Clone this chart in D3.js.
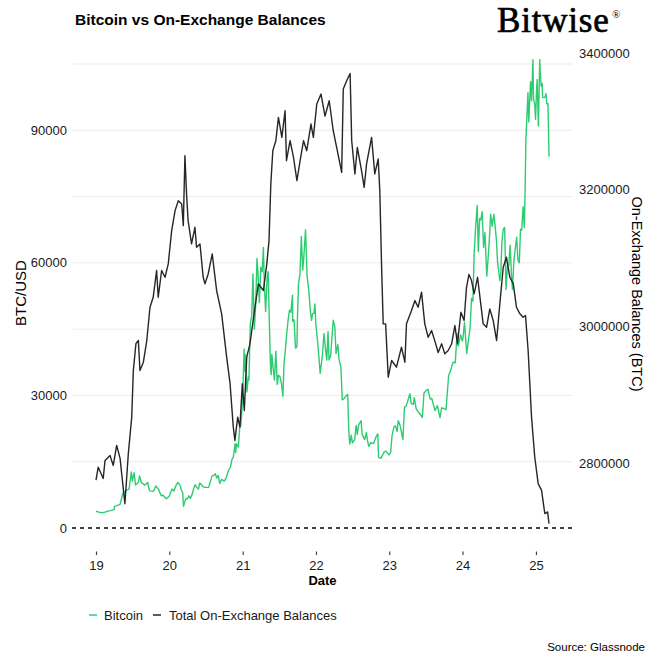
<!DOCTYPE html>
<html>
<head>
<meta charset="utf-8">
<script src="https://cdn.jsdelivr.net/npm/d3@7"></script>
<style>
  html, body { margin: 0; padding: 0; background: #fff; }
  svg { display: block; font-family: "Liberation Sans", Arial, sans-serif; }
</style>
</head>
<body>
<svg id="chart" width="661" height="661"></svg>
<script>
// ---------- DATA ----------
const btcDates = ["2019-01-01","2019-01-15","2019-02-01","2019-02-15","2019-03-01","2019-03-15","2019-04-01","2019-04-03","2019-04-15","2019-05-01","2019-05-15","2019-05-31","2019-06-15","2019-06-26","2019-07-01","2019-07-10","2019-07-17","2019-08-01","2019-08-06","2019-08-15","2019-09-01","2019-09-15","2019-09-25","2019-10-15","2019-10-26","2019-11-08","2019-11-22","2019-12-01","2019-12-17",
"2020-01-01","2020-01-08","2020-01-15","2020-01-25","2020-02-01","2020-02-13","2020-02-24","2020-03-01","2020-03-08","2020-03-12","2020-03-20","2020-03-25","2020-04-01","2020-04-08","2020-04-15","2020-04-23","2020-05-01","2020-05-09","2020-05-15","2020-05-25","2020-06-01","2020-06-10","2020-06-15","2020-06-25","2020-07-01","2020-07-15","2020-07-27","2020-08-01","2020-08-10","2020-08-17","2020-08-25","2020-09-01","2020-09-08","2020-09-18","2020-10-01","2020-10-10","2020-10-21","2020-11-01","2020-11-08","2020-11-15","2020-11-24","2020-11-27","2020-12-01","2020-12-10","2020-12-17","2020-12-23","2020-12-31",
"2021-01-03","2021-01-08","2021-01-11","2021-01-14","2021-01-22","2021-01-29","2021-02-01","2021-02-08","2021-02-15","2021-02-21","2021-02-28","2021-03-07","2021-03-13","2021-03-18","2021-03-25","2021-04-01","2021-04-08","2021-04-14","2021-04-18","2021-04-25","2021-05-03","2021-05-08","2021-05-12","2021-05-19","2021-05-23","2021-05-26","2021-06-01","2021-06-08","2021-06-15","2021-06-22","2021-06-28","2021-07-06","2021-07-13","2021-07-20","2021-07-26","2021-08-01","2021-08-08","2021-08-15","2021-08-22","2021-08-29","2021-09-06","2021-09-07","2021-09-14","2021-09-21","2021-09-28","2021-10-01","2021-10-06","2021-10-13","2021-10-20","2021-10-27","2021-11-01","2021-11-10","2021-11-18","2021-11-26","2021-12-04","2021-12-10","2021-12-15","2021-12-22","2021-12-27","2021-12-31",
"2022-01-10","2022-01-22","2022-02-01","2022-02-10","2022-02-17","2022-02-24","2022-03-02","2022-03-07","2022-03-15","2022-03-28","2022-04-05","2022-04-11","2022-04-20","2022-04-26","2022-05-05","2022-05-12","2022-05-20","2022-06-01","2022-06-08","2022-06-13","2022-06-18","2022-06-26","2022-07-01","2022-07-13","2022-07-20","2022-07-26","2022-08-01","2022-08-14","2022-08-19","2022-09-01","2022-09-09","2022-09-15","2022-09-21","2022-10-01","2022-10-15","2022-10-29","2022-11-05","2022-11-09","2022-11-21","2022-12-05","2022-12-15","2022-12-31",
"2023-01-08","2023-01-15","2023-01-25","2023-02-01","2023-02-09","2023-02-15","2023-02-24","2023-03-10","2023-03-18","2023-03-25","2023-04-01","2023-04-14","2023-04-20","2023-05-01","2023-05-06","2023-05-15","2023-05-25","2023-06-05","2023-06-15","2023-06-23","2023-07-04","2023-07-13","2023-07-24","2023-08-01","2023-08-17","2023-08-29","2023-09-11","2023-09-19","2023-10-01","2023-10-11","2023-10-24","2023-11-01","2023-11-09","2023-11-15","2023-11-26","2023-12-05","2023-12-11","2023-12-15","2023-12-23","2023-12-31",
"2024-01-03","2024-01-11","2024-01-22","2024-02-01","2024-02-08","2024-02-15","2024-02-22","2024-02-28","2024-03-05","2024-03-14","2024-03-20","2024-03-26","2024-04-01","2024-04-08","2024-04-15","2024-04-22","2024-05-01","2024-05-08","2024-05-15","2024-05-20","2024-05-28","2024-06-05","2024-06-12","2024-06-18","2024-06-24","2024-07-05","2024-07-10","2024-07-15","2024-07-22","2024-07-29","2024-08-05","2024-08-12","2024-08-19","2024-08-25","2024-09-01","2024-09-06","2024-09-13","2024-09-20","2024-09-27","2024-10-03","2024-10-10","2024-10-16","2024-10-22","2024-10-29","2024-11-04","2024-11-08","2024-11-12","2024-11-15","2024-11-22","2024-11-26","2024-12-05","2024-12-10","2024-12-17","2024-12-20","2024-12-26","2024-12-30",
"2025-01-03","2025-01-07","2025-01-13","2025-01-20","2025-01-22","2025-01-27","2025-02-01","2025-02-03","2025-02-10","2025-02-15","2025-02-20","2025-02-24","2025-03-02","2025-03-07"];
const btcPrices = [3800,3600,3450,3600,3820,3920,4150,4900,5050,5350,7900,8500,8800,12700,10600,12500,9700,10400,11800,10300,9700,10300,8400,8300,9500,8800,7300,7400,6600,
7200,8100,8800,8400,9400,10300,9650,8600,8000,4900,6200,6700,6600,7300,6700,7500,8800,9800,9300,8800,10200,9800,9400,9200,9200,9200,11000,11800,11900,12300,11300,11900,10100,11000,10600,11300,12900,13800,15500,16000,19100,17100,19000,18300,22800,23200,29000,
32800,40500,35500,39200,30800,34300,33500,46400,48000,57500,45000,51000,61000,57800,51000,59000,58000,63500,56000,49000,57000,58000,49500,37000,34700,39300,36600,33500,40000,32500,34600,34200,32700,29800,37300,40000,43800,47000,49300,48800,52700,46800,47100,40700,41000,48000,55300,57400,66000,58400,61000,67500,56900,54000,49000,47000,48500,48600,50700,46300,
41800,35000,38700,44000,40600,38000,44400,38000,39000,47000,45500,39500,41500,38100,36500,29000,29200,30000,30200,22500,19000,21000,19300,20000,23200,21200,23300,24300,21200,20000,21600,19700,18500,19300,19100,20800,21300,16000,15800,17100,17400,16550,
17100,20900,23000,23100,21800,24300,23200,20000,27400,27500,28400,30400,28200,28000,29500,27000,26300,25700,25000,30500,31100,31400,29200,29300,26600,27700,25000,27200,27000,26800,34500,35400,36700,37500,37400,44000,41200,42000,43700,42300,
42800,46500,39500,43000,45300,52000,51300,62000,67000,73000,62500,70000,69700,71600,63500,66800,57000,61200,66200,71000,68300,71000,68200,65100,60000,56000,57700,64500,67600,68000,54000,59300,59400,64000,57300,54000,60500,63200,65800,60700,60000,67600,67400,72700,68000,76500,88000,91000,98500,91900,101000,96700,106000,97000,95800,92500,
98100,101500,91000,106000,103600,100000,100600,97500,97400,97500,98300,96000,96000,84000];

const balDates = ["2019-01-01","2019-01-12","2019-02-06","2019-02-15","2019-03-12","2019-03-28","2019-04-14","2019-05-01","2019-05-09","2019-05-25","2019-06-11","2019-06-28","2019-07-06","2019-07-19","2019-07-31","2019-08-08","2019-08-25","2019-09-11","2019-09-27","2019-10-13","2019-10-30","2019-11-07","2019-11-24","2019-12-11","2019-12-27",
"2020-01-13","2020-01-30","2020-02-15","2020-03-03","2020-03-11","2020-03-19","2020-03-28","2020-04-04","2020-04-21","2020-05-08","2020-05-16","2020-06-02","2020-06-18","2020-06-27","2020-07-13","2020-08-02","2020-08-24","2020-09-18","2020-10-13","2020-10-30","2020-11-15","2020-11-23","2020-12-07","2020-12-18","2020-12-30",
"2021-01-09","2021-01-21","2021-02-06","2021-03-03","2021-03-20","2021-04-14","2021-05-01","2021-05-12","2021-05-21","2021-05-31","2021-06-15","2021-06-28","2021-07-15","2021-07-31","2021-08-07","2021-08-25","2021-09-11","2021-09-28","2021-10-14","2021-10-31","2021-11-16","2021-12-07","2021-12-19",
"2022-01-05","2022-01-26","2022-02-15","2022-03-08","2022-03-28","2022-04-14","2022-05-09","2022-05-17","2022-06-03","2022-06-20","2022-06-28","2022-07-14","2022-07-26","2022-08-16","2022-08-29","2022-09-10","2022-10-05","2022-10-21","2022-11-07","2022-11-15","2022-11-24","2022-12-02","2022-12-14","2022-12-27",
"2023-01-13","2023-02-06","2023-03-03","2023-03-20","2023-03-28","2023-04-22","2023-05-09","2023-05-25","2023-06-11","2023-06-27","2023-07-14","2023-07-31","2023-08-16","2023-09-02","2023-09-19","2023-10-05","2023-10-22","2023-11-08","2023-11-24","2023-12-07","2023-12-24",
"2024-01-09","2024-01-21","2024-02-02","2024-02-15","2024-02-28","2024-03-16","2024-04-01","2024-04-13","2024-04-30","2024-05-16","2024-06-02","2024-06-19","2024-07-05","2024-07-22","2024-08-07","2024-08-24","2024-09-10","2024-09-26","2024-10-13","2024-10-29","2024-11-10","2024-11-23","2024-12-10","2024-12-26",
"2025-01-12","2025-01-29","2025-02-14","2025-02-28","2025-03-07"];
const balValues = [2775000,2794000,2777600,2804000,2811000,2796600,2826000,2807000,2784500,2740600,2813700,2867300,2935600,2975000,2979500,2935600,2947800,2979500,3028200,3042900,3082000,3042900,3082000,3072100,3091700,
3140400,3169700,3184300,3179500,3147700,3250200,3189200,3155100,3121000,3145300,3116000,3121000,3072100,3062500,3077000,3106300,3052700,3018600,2955100,2916300,2852700,2833200,2867300,2852700,2916300,
2877100,2955100,2974700,3028200,3062500,3052700,3091700,3125800,3208800,3257500,3272100,3306200,3277000,3316000,3242800,3272100,3247700,3213600,3242800,3272100,3257500,3296500,3277000,
3325800,3340400,3308000,3330600,3286700,3262300,3225700,3347700,3359900,3370600,3272100,3223400,3262300,3228200,3203800,3238000,3277000,3223400,3245300,3199000,3086800,3003900,3003900,2925800,
2950300,2940500,2969700,2947800,3003900,3023400,3038000,3028200,3050200,3003900,2984300,2994100,2979000,2962000,2974700,2960000,2964900,2974700,3001500,2974700,3020900,
3008800,3057500,3076100,3067300,3047800,3072100,3033200,3003900,2999000,3025900,3008800,2979500,3033200,3086800,3101400,3072100,3062500,3028200,3018600,3013700,3016100,2964900,2867300,2809000,
2769900,2760100,2726200,2728600,2711300];

const leftTicks = [0, 30000, 60000, 90000];
const leftGrid = [15000, 30000, 45000, 60000, 75000, 90000, 105000];
const rightTicks = [2800000, 3000000, 3200000, 3400000];
const yearTicks = ["2019-01-01","2020-01-01","2021-01-01","2022-01-01","2023-01-01","2024-01-01","2025-01-01"];
const seriesNames = ["Bitcoin", "Total On-Exchange Balances"];
const seriesColors = ["#2ecc71", "#262626"];

// ---------- LAYOUT ----------
const parse = d3.timeParse("%Y-%m-%d");
const btc = btcDates.map((d, i) => ({ date: parse(d), v: btcPrices[i] }));
const bal = balDates.map((d, i) => ({ date: parse(d), v: balValues[i] }));

const panel = { left: 73, right: 572 };
const x = d3.scaleTime()
  .domain([parse("2019-01-01"), parse("2025-03-07")])
  .range([96, 549]);
const yL = d3.scaleLinear().domain([0, 105000]).range([528, 64]);
const yR = d3.scaleLinear().domain([2705000, 3384400]).range([528, 64]);

const svg = d3.select("#chart");
const txt = "#1a1a1a";

// gridlines
svg.append("g").selectAll("line").data(leftGrid).join("line")
  .attr("x1", panel.left).attr("x2", panel.right)
  .attr("y1", d => yL(d)).attr("y2", d => yL(d))
  .attr("stroke", "#ebebeb").attr("stroke-width", 1);

// lines
const lineL = d3.line().x(d => x(d.date)).y(d => yL(d.v));
const lineR = d3.line().x(d => x(d.date)).y(d => yR(d.v));
svg.append("path").datum(btc).attr("d", lineL)
  .attr("fill", "none").attr("stroke", seriesColors[0]).attr("stroke-width", 1.4)
  .attr("stroke-linejoin", "round");
svg.append("path").datum(bal).attr("d", lineR)
  .attr("fill", "none").attr("stroke", seriesColors[1]).attr("stroke-width", 1.4)
  .attr("stroke-linejoin", "round");

// zero dashed line
svg.append("line")
  .attr("x1", panel.left - 1).attr("x2", panel.right)
  .attr("y1", yL(0)).attr("y2", yL(0))
  .attr("stroke", "#000").attr("stroke-width", 1.4)
  .attr("stroke-dasharray", "4,4");

// left axis labels
svg.append("g").selectAll("text").data(leftTicks).join("text")
  .attr("x", 67).attr("y", d => yL(d))
  .attr("text-anchor", "end").attr("dominant-baseline", "central")
  .attr("font-size", 13).attr("fill", txt).text(d => d);

// right axis labels
svg.append("g").selectAll("text").data(rightTicks).join("text")
  .attr("x", 579).attr("y", d => yR(d))
  .attr("text-anchor", "start").attr("dominant-baseline", "central")
  .attr("font-size", 13).attr("fill", txt).text(d => d);

// x axis
const xAxis = d3.axisBottom(x)
  .tickValues(yearTicks.map(parse))
  .tickFormat(d3.timeFormat("%y"))
  .tickSize(3.5).tickPadding(6);
const gx = svg.append("g").attr("transform", "translate(0,551.5)").call(xAxis);
gx.select(".domain").remove();
gx.selectAll(".tick line").attr("stroke", "#444").attr("stroke-width", 1.2);
gx.selectAll(".tick text").attr("font-size", 13).attr("fill", txt)
  .attr("font-family", "Liberation Sans, Arial, sans-serif");

// axis titles
svg.append("text").attr("x", (panel.left + panel.right) / 2).attr("y", 580)
  .attr("text-anchor", "middle").attr("dominant-baseline", "central")
  .attr("font-size", 13).attr("font-weight", "bold").attr("fill", "#000").text("Date");
svg.append("text").attr("transform", "translate(20,293) rotate(-90)")
  .attr("text-anchor", "middle").attr("dominant-baseline", "central")
  .attr("font-size", 15).attr("fill", "#000").text("BTC/USD");
svg.append("text").attr("transform", "translate(637,294) rotate(90)")
  .attr("text-anchor", "middle").attr("dominant-baseline", "central")
  .attr("font-size", 14.5).attr("fill", "#000").text("On-Exchange Balances (BTC)");

// title
svg.append("text").attr("x", 75).attr("y", 25)
  .attr("font-size", 15.5).attr("font-weight", "bold").attr("fill", "#000")
  .text("Bitcoin vs On-Exchange Balances");

// logo
svg.append("text").attr("x", 497).attr("y", 32)
  .attr("font-family", "Liberation Serif, Times New Roman, serif")
  .attr("font-size", 35).attr("letter-spacing", 0.8).attr("fill", "#000")
  .attr("stroke", "#000").attr("stroke-width", 0.7)
  .text("Bitwise");
svg.append("text").attr("x", 612).attr("y", 18)
  .attr("font-family", "Liberation Serif, Times New Roman, serif")
  .attr("font-size", 11).attr("fill", "#000").text("®");

// legend
const leg = svg.append("g").attr("transform", "translate(0,615)");
const legX = [[89, 104], [153, 169]];
seriesNames.forEach((name, i) => {
  leg.append("line").attr("x1", legX[i][0]).attr("x2", legX[i][0] + 8)
    .attr("y1", 0).attr("y2", 0)
    .attr("stroke", seriesColors[i]).attr("stroke-width", 1.5);
  leg.append("text").attr("x", legX[i][1]).attr("y", 0)
    .attr("dominant-baseline", "central").attr("font-size", 13).attr("fill", txt)
    .text(name);
});

// source
svg.append("text").attr("x", 645).attr("y", 647)
  .attr("text-anchor", "end").attr("dominant-baseline", "central")
  .attr("font-size", 11.5).attr("fill", "#000").text("Source: Glassnode");
</script>
</body>
</html>
